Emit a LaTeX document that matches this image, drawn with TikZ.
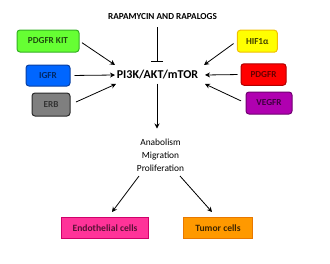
\documentclass[tikz,border=0pt]{standalone}
\usepackage{fontspec}
\setmainfont{Carlito}
\usetikzlibrary{arrows.meta}
\definecolor{cgreen}{HTML}{66FF33}
\definecolor{cgreenb}{HTML}{33B022}
\definecolor{cblue}{HTML}{0066FF}
\definecolor{cblueb}{HTML}{0A3FA0}
\definecolor{cgray}{HTML}{7F7F7F}
\definecolor{cgrayb}{HTML}{2A2A2A}
\definecolor{cyellow}{HTML}{FFFF00}
\definecolor{cyellowb}{HTML}{F0C000}
\definecolor{cred}{HTML}{FF0000}
\definecolor{credb}{HTML}{B00000}
\definecolor{cpurple}{HTML}{B000B0}
\definecolor{cpurpleb}{HTML}{700070}
\definecolor{cpink}{HTML}{FF3399}
\definecolor{cpinkb}{HTML}{D0006A}
\definecolor{corange}{HTML}{FF9900}
\definecolor{corangeb}{HTML}{E87800}
\begin{document}
\begin{tikzpicture}[x=1pt,y=-1pt,
  rbox/.style={draw, line width=1pt, rounded corners=3pt, inner sep=0pt, font=\fontsize{9.2}{10}\selectfont\bfseries},
  sbox/.style={draw, line width=1pt, inner sep=0pt, font=\fontsize{9.6}{10}\selectfont\bfseries},
  arr/.style={-{Stealth[length=5pt,width=5pt]}, line width=0.8pt},
  inhib/.style={-{Bar[width=12pt,line width=0.8pt]}, line width=0.8pt},
  lbl/.style={inner sep=0pt, font=\fontsize{9.4}{10}\selectfont}]
\useasboundingbox (0,0) rectangle (330,263);
\node[lbl, font=\fontsize{9.2}{10}\selectfont\bfseries] (title) at (162.5,17) {RAPAMYCIN AND RAPALOGS};
\node[inner sep=1pt, font=\fontsize{12}{14}\selectfont\bfseries] (pi3k) at (157.5,75) {PI3K/AKT/mTOR};
\node[rbox, fill=cgreen, draw=cgreenb, text=cgreen!30!black, minimum width=62pt, minimum height=22pt] (pdgfrkit) at (48,41) {PDGFR KIT};
\node[rbox, fill=cblue, draw=cblueb, text=cblue!40!black, minimum width=44pt, minimum height=21pt] (igfr) at (48,75.5) {IGFR};
\node[rbox, fill=cgray, draw=cgrayb, text=cgray!40!black, minimum width=38pt, minimum height=23pt] (erb) at (51,104.5) {ERB};
\node[rbox, fill=cyellow, draw=cyellowb, text=cyellow!25!black, minimum width=40pt, minimum height=22pt] (hif) at (257.3,41.2) {HIF1α};
\node[rbox, fill=cred, draw=credb, text=cred!40!black, minimum width=45pt, minimum height=21.5pt] (pdgfr) at (263.5,74.5) {PDGFR};
\node[rbox, fill=cpurple, draw=cpurpleb, text=cpurple!35!black, minimum width=46pt, minimum height=22pt] (vegfr) at (269,103) {VEGFR};
\node[lbl, align=center, font=\fontsize{9.4}{13}\selectfont] (out) at (160.5,155) {Anabolism\\Migration\\Proliferation};
\node[sbox, fill=cpink, draw=cpinkb, text=cpink!35!black, minimum width=87pt, minimum height=21.5pt] (endo) at (105,228.2) {Endothelial cells};
\node[sbox, fill=corange, draw=corangeb, text=corange!25!black, minimum width=69pt, minimum height=21pt] (tumor) at (218,227.7) {Tumor cells};
% connector ends
\coordinate (tbar) at (157,62);
\coordinate (inPK) at (115,65);
\coordinate (inIG) at (115,75);
\coordinate (inER) at (116,84);
\coordinate (inHI) at (204,65);
\coordinate (inPD) at (205,75);
\coordinate (inVE) at (205,84);
\coordinate (outL) at (139,176);
\coordinate (outR) at (180,176);
\coordinate (toE) at (112,212);
\coordinate (toT) at (212,212);
% connectors
\draw[inhib] (title.south -| tbar) ++(0,7) -- (tbar);
\draw[arr, shorten <=3pt] (pdgfrkit.east) -- (inPK);
\draw[arr, shorten <=4pt] (igfr.east) -- (inIG);
\draw[arr, shorten <=6pt] (erb.east) -- (inER);
\draw[arr, shorten <=4pt] (hif.west) -- (inHI);
\draw[arr, shorten <=3pt] (pdgfr.west) -- (inPD);
\draw[arr, shorten <=5pt] (vegfr.west) -- (inVE);
\draw[arr, shorten <=3pt, shorten >=10pt] (pi3k.south -| tbar) -- (out.north -| tbar);
\draw[arr] (outL) -- (toE);
\draw[arr] (outR) -- (toT);
\end{tikzpicture}
\end{document}
